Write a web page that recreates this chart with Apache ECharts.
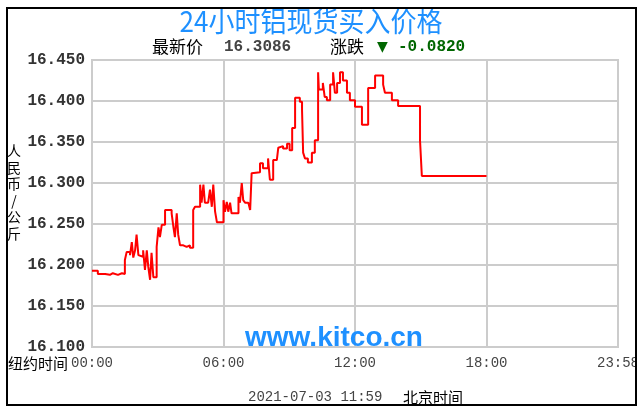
<!DOCTYPE html>
<html><head><meta charset="utf-8">
<script src="https://cdn.jsdelivr.net/npm/echarts@6/dist/echarts.min.js"></script>
<style>html,body{margin:0;padding:0;background:#fff}#c{width:643px;height:415px}</style>
</head><body><div id="c"></div>
<script>
// minutes since 00:00 (New York time)
const times = [0,16,36,49,57,71,82,90,95,104,109,113,118,122,127,131,140,145,150,154,159,163,168,177,182,186,191,200,218,223,227,232,236,241,250,259,268,277,282,296,300,305,309,318,323,328,332,337,342,360,364,369,373,378,382,401,405,410,414,419,428,433,437,442,460,468,482,487,496,506,510,515,523,534,541,548,556,569,575,578,583,591,602,610,619,621,632,637,643,652,660,665,671,679,687,698,706,720,739,756,775,797,802,821,838,898,903,1080];
const prices = [16.193,16.189,16.188,16.190,16.188,16.190,16.189,16.206,16.216,16.212,16.228,16.209,16.218,16.237,16.212,16.210,16.218,16.194,16.218,16.198,16.182,16.215,16.185,16.222,16.246,16.234,16.249,16.267,16.263,16.246,16.234,16.263,16.237,16.224,16.222,16.224,16.221,16.267,16.271,16.298,16.276,16.298,16.276,16.277,16.292,16.271,16.298,16.265,16.252,16.279,16.265,16.277,16.265,16.276,16.263,16.283,16.276,16.300,16.279,16.276,16.277,16.267,16.312,16.313,16.324,16.318,16.330,16.304,16.328,16.328,16.343,16.345,16.342,16.348,16.340,16.367,16.404,16.399,16.389,16.337,16.330,16.325,16.337,16.352,16.435,16.414,16.422,16.405,16.401,16.420,16.435,16.410,16.422,16.435,16.425,16.410,16.401,16.393,16.371,16.416,16.431,16.420,16.410,16.401,16.394,16.352,16.3086,16.3086];
const xTickLabels = ['00:00','06:00','12:00','18:00','23:58'];
const titleText = '24小时铝现货买入价格';
const latestPrice = '16.3086';
const change = '-0.0820';
const stampText = '2021-07-03 11:59';

const data = times.map((t,i)=>[t,prices[i]]);
const chart = echarts.init(document.getElementById('c'), null, {renderer:'canvas'});
const mono = '"Liberation Mono", "DejaVu Sans Mono", monospace';
const cjk = '"Noto Sans CJK SC", sans-serif';
chart.setOption({
  animation:false,
  backgroundColor:'#ffffff',
  grid:{left:92, top:60, width:526, height:287, show:true, borderColor:'#cccccc', borderWidth:2, backgroundColor:'#ffffff'},
  xAxis:{type:'value', min:0, max:1440, interval:360,
    axisLine:{show:false}, axisTick:{show:false},
    splitLine:{show:true, lineStyle:{color:'#cccccc', width:2}},
    axisLabel:{margin:9, color:'#444', fontFamily:mono, fontSize:14,
      formatter:v=>xTickLabels[Math.round(v/360)]}},
  yAxis:{type:'value', min:16.1, max:16.45, interval:0.05,
    axisLine:{show:false}, axisTick:{show:false},
    splitLine:{show:true, lineStyle:{color:'#cccccc', width:2}},
    axisLabel:{margin:7, color:'#333', fontFamily:mono, fontSize:16, fontWeight:'bold',
      formatter:v=>v.toFixed(3)}},
  series:[{type:'line', step:'end', data:data, showSymbol:false, symbol:'none',
    lineStyle:{color:'#ff0000', width:2}, z:5}],
  graphic:[
    {type:'text', x:311, y:21, scaleY:1.1, z:10, style:{text:titleText, fill:'#1e90ff', font:'26px '+cjk, textAlign:'center', textVerticalAlign:'middle'}},
    {type:'text', x:152, y:47, z:10, style:{text:'最新价', fill:'#000', font:'17px '+cjk, textVerticalAlign:'middle'}},
    {type:'text', x:224, y:47, z:10, style:{text:latestPrice, fill:'#444', font:'bold 16px '+mono, textVerticalAlign:'middle'}},
    {type:'text', x:330, y:47, z:10, style:{text:'涨跌', fill:'#000', font:'17px '+cjk, textVerticalAlign:'middle'}},
    {type:'text', x:377, y:47, z:10, style:{text:'▼', fill:'#006600', font:'14px "DejaVu Sans", sans-serif', textVerticalAlign:'middle'}},
    {type:'text', x:398, y:47, z:10, style:{text:change, fill:'#006600', font:'bold 16px '+mono, textVerticalAlign:'middle'}},
    {type:'text', x:334, y:338, z:10, style:{text:'www.kitco.cn', fill:'#1e90ff', font:'bold 28px "Liberation Sans", Arial, sans-serif', textAlign:'center', textVerticalAlign:'middle'}},
    {type:'text', x:8, y:363, z:10, style:{text:'纽约时间', fill:'#000', font:'15px '+cjk, textVerticalAlign:'middle'}},
    {type:'text', x:248, y:397, z:10, style:{text:stampText, fill:'#444', font:'14px '+mono, textVerticalAlign:'middle'}},
    {type:'text', x:403, y:397, z:10, style:{text:'北京时间', fill:'#000', font:'15px '+cjk, textVerticalAlign:'middle'}},
    {type:'text', x:14, y:192, z:10, style:{text:'人\n民\n币\n/\n公\n斤', fill:'#000', font:'14px '+cjk, lineHeight:16.5, textAlign:'center', textVerticalAlign:'middle'}},
    {type:'rect', z:20, shape:{x:637, y:0, width:6, height:415}, style:{fill:'#ffffff'}},
    {type:'rect', z:21, shape:{x:7, y:8, width:629, height:397}, style:{fill:'none', stroke:'#000', lineWidth:2}}
  ]
});
</script></body></html>
